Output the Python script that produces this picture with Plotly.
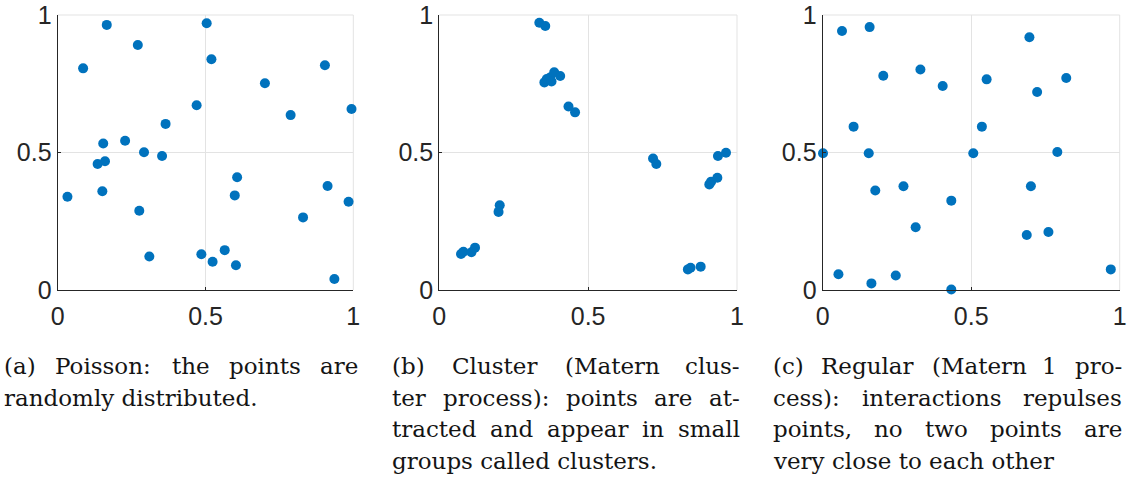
import plotly.graph_objects as go

# Panel (a) Poisson
a_x = [0.166, 0.504, 0.271, 0.520, 0.086, 0.904, 0.701, 0.994, 0.788, 0.470, 0.365,
       0.154, 0.228, 0.292, 0.353, 0.135, 0.160, 0.033, 0.151, 0.276, 0.607, 0.599,
       0.913, 0.984, 0.830, 0.310, 0.486, 0.524, 0.565, 0.603, 0.936]
a_y = [0.964, 0.970, 0.891, 0.839, 0.806, 0.817, 0.752, 0.658, 0.636, 0.672, 0.604,
       0.533, 0.543, 0.501, 0.487, 0.458, 0.468, 0.339, 0.359, 0.288, 0.410, 0.344,
       0.378, 0.321, 0.264, 0.122, 0.130, 0.103, 0.145, 0.090, 0.040]

# Panel (b) Cluster
b_x = [0.336, 0.356, 0.353, 0.361, 0.372, 0.377, 0.386, 0.406, 0.434, 0.456,
       0.203, 0.199, 0.073, 0.081, 0.108, 0.120, 0.718, 0.729, 0.936, 0.963,
       0.907, 0.913, 0.934, 0.835, 0.844, 0.878]
b_y = [0.972, 0.960, 0.755, 0.767, 0.773, 0.758, 0.792, 0.778, 0.667, 0.646,
       0.308, 0.284, 0.131, 0.139, 0.137, 0.154, 0.478, 0.458, 0.487, 0.499,
       0.384, 0.394, 0.408, 0.075, 0.081, 0.085]

# Panel (c) Regular
c_x = [0.065, 0.158, 0.696, 0.329, 0.204, 0.404, 0.552, 0.820, 0.722, 0.104,
       0.536, 0.001, 0.155, 0.507, 0.790, 0.177, 0.272, 0.701, 0.433, 0.313,
       0.687, 0.760, 0.970, 0.053, 0.164, 0.246, 0.433]
c_y = [0.942, 0.956, 0.919, 0.802, 0.779, 0.742, 0.766, 0.771, 0.720, 0.594,
       0.594, 0.497, 0.497, 0.497, 0.502, 0.362, 0.377, 0.377, 0.325, 0.228,
       0.200, 0.211, 0.075, 0.057, 0.024, 0.053, 0.002]

tick_vals = [0, 0.5, 1]
tick_text = ["0", "0.5", "1"]

# Captions: lines of each sub-caption (all but the last are justified)
caption_a = ["(a) Poisson: the points are", "randomly distributed."]
caption_b = ["(b) Cluster (Matern clus-", "ter process): points are at-",
             "tracted and appear in small", "groups called clusters."]
caption_c = ["(c) Regular (Matern 1 pro-", "cess): interactions repulses",
             "points, no two points are", "very close to each other"]

W, H = 1129, 492
BLUE = "#0072BD"
AX = "#262626"
GRID = "#e3e3e3"
CAP_FONT = "DejaVu Serif, serif"
CAP_SIZE = 23

x_domains = [[57.7 / W, 353.3 / W], [439.3 / W, 737.0 / W], [822.7 / W, 1119.7 / W]]
y_domain = [1 - 290 / H, 1 - 15 / H]
cap_cols = [(4, 358), (392, 740), (773, 1122)]
line_y = [366, 398, 429, 461]

# approximate advance widths (em) of DejaVu Serif, for justifying caption lines
_cw = {' ': .318, '(': .390, ')': .390, ',': .318, '-': .338, '.': .318, ':': .337,
       '1': .636, 'C': .730, 'M': .940, 'P': .737, 'R': .771,
       'a': .596, 'b': .640, 'c': .560, 'd': .640, 'e': .592, 'g': .640, 'h': .644,
       'i': .320, 'l': .320, 'm': .948, 'n': .644, 'o': .602, 'p': .640, 'r': .478,
       's': .513, 't': .402, 'u': .644, 'v': .565, 'w': .855, 'y': .565}


def word_width(w):
    return sum(_cw.get(ch, .6) for ch in w) * CAP_SIZE


fig = go.Figure()
data = [(a_x, a_y), (b_x, b_y), (c_x, c_y)]
shapes = []
for i, (xs, ys) in enumerate(data):
    sfx = "" if i == 0 else str(i + 1)
    axcommon = dict(range=[0, 1], tickvals=tick_vals, ticktext=tick_text,
                    showgrid=True, gridcolor=GRID, gridwidth=1,
                    zeroline=False, showline=True, linecolor=AX, linewidth=1.3,
                    ticks="inside", ticklen=3, tickcolor=AX, automargin=False,
                    tickfont=dict(family="Liberation Sans, Arial", size=25, color=AX),
                    fixedrange=True)
    fig.update_layout(**{
        "xaxis" + sfx: dict(domain=x_domains[i], anchor="y" + sfx,
                            ticklabelstandoff=4, **axcommon),
        "yaxis" + sfx: dict(domain=y_domain, anchor="x" + sfx, **axcommon),
    })
    shapes.append(dict(type="line", xref="x" + sfx + " domain", yref="y" + sfx + " domain",
                       x0=0, x1=1, y0=1, y1=1, line=dict(color=GRID, width=1), layer="below"))
    shapes.append(dict(type="line", xref="x" + sfx + " domain", yref="y" + sfx + " domain",
                       x0=1, x1=1, y0=0, y1=1, line=dict(color=GRID, width=1), layer="below"))
    fig.add_trace(go.Scatter(
        x=xs, y=ys, mode="markers", xaxis="x" + sfx, yaxis="y" + sfx,
        marker=dict(color=BLUE, size=10, line=dict(width=0)),
        cliponaxis=False, showlegend=False, hoverinfo="skip"))

annotations = []


def add_word(text, px, py, anchor):
    annotations.append(dict(
        text=text, x=px / W, y=1 - py / H, xref="paper", yref="paper",
        xanchor=anchor, yanchor="middle", showarrow=False,
        xshift=-2 if anchor == "left" else 2,
        font=dict(family=CAP_FONT, size=CAP_SIZE, color="#141414")))


for (L, R), cap in zip(cap_cols, (caption_a, caption_b, caption_c)):
    for j, line in enumerate(cap):
        py = line_y[j]
        if j == len(cap) - 1:
            add_word(line, L, py, "left")
            continue
        words = line.split(" ")
        widths = [word_width(w) for w in words]
        gap = (R - L - sum(widths)) / (len(words) - 1)
        xpos = L
        for k, w in enumerate(words):
            if k == len(words) - 1:
                add_word(w, R, py, "right")
            else:
                add_word(w, xpos, py, "left")
            xpos += widths[k] + gap

fig.update_layout(
    width=W, height=H, margin=dict(l=0, r=0, t=0, b=0, autoexpand=False),
    paper_bgcolor="white", plot_bgcolor="white",
    annotations=annotations, shapes=shapes,
)

fig.write_html("out.html", config={"displayModeBar": False},
               post_script="document.body.style.margin='0';document.body.style.overflow='hidden';")
